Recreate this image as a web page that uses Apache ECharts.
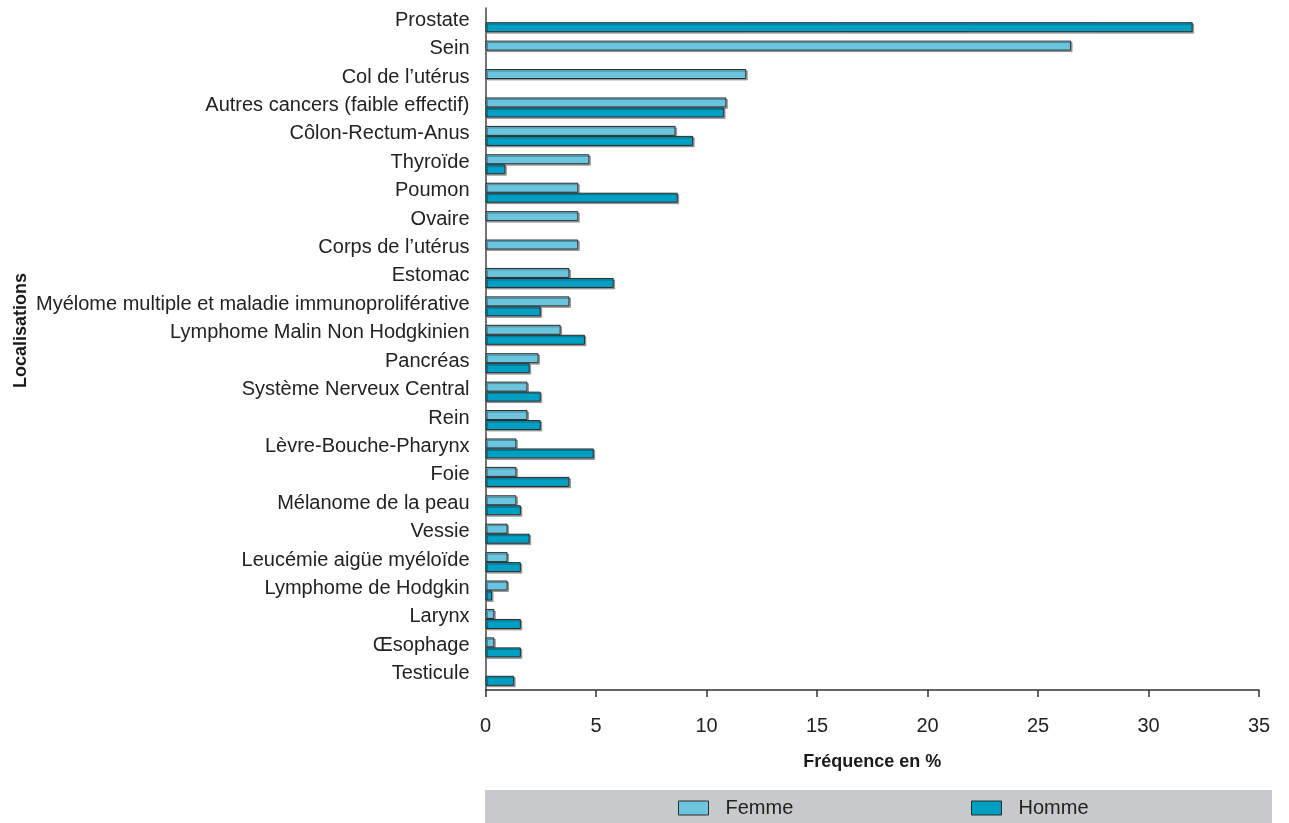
<!DOCTYPE html>
<html>
<head>
<meta charset="utf-8">
<script src="https://cdn.jsdelivr.net/npm/echarts@6/dist/echarts.min.js"></script>
<style>
html,body{margin:0;padding:0;background:#fff;}
#chart{width:1289px;height:823px;}
</style>
</head>
<body>
<div id="chart"></div>
<script>
const categories = [
  "Prostate", "Sein", "Col de l’utérus", "Autres cancers (faible effectif)",
  "Côlon-Rectum-Anus", "Thyroïde", "Poumon", "Ovaire", "Corps de l’utérus",
  "Estomac", "Myélome multiple et maladie immunoproliférative",
  "Lymphome Malin Non Hodgkinien", "Pancréas", "Système Nerveux Central",
  "Rein", "Lèvre-Bouche-Pharynx", "Foie", "Mélanome de la peau", "Vessie",
  "Leucémie aigüe myéloïde", "Lymphome de Hodgkin", "Larynx", "Œsophage",
  "Testicule"
];
const femme = [null, 26.5, 11.8, 10.9, 8.6, 4.7, 4.2, 4.2, 4.2, 3.8, 3.8, 3.4, 2.4, 1.9, 1.9, 1.4, 1.4, 1.4, 1.0, 1.0, 1.0, 0.4, 0.4, null];
const homme = [32.0, null, null, 10.8, 9.4, 0.9, 8.7, null, null, 5.8, 2.5, 4.5, 2.0, 2.5, 2.5, 4.9, 3.8, 1.6, 2.0, 1.6, 0.3, 1.6, 1.6, 1.3];
const xTicks = { min: 0, max: 35, interval: 5 };

const FONT = "'Liberation Sans Narrow', 'Liberation Sans', sans-serif";
const chart = echarts.init(document.getElementById('chart'), null, { renderer: 'canvas' });

const barStyle = (color) => ({
  color: color,
  borderColor: '#2b2b2b',
  borderWidth: 1,
  shadowColor: 'rgba(0,0,0,0.3)',
  shadowOffsetX: 1.5,
  shadowOffsetY: 1.5,
  shadowBlur: 0
});

chart.setOption({
  animation: false,
  backgroundColor: '#ffffff',
  textStyle: { fontFamily: FONT },
  grid: { left: 485.5, right: 30, top: 8, bottom: 133, containLabel: false },
  graphic: [
    { type: 'rect', left: 485, top: 790, shape: { width: 787, height: 33 }, style: { fill: '#c8c9cb' }, z: -1 },
    { type: 'text', left: 12, top: 273, rotation: Math.PI / 2,
      style: { text: 'Localisations', font: "bold 18px " + FONT, fill: '#1a1a1a' } }
  ],
  legend: [
    { data: ['Femme'], left: 678, top: 798, padding: 0, itemWidth: 30, itemHeight: 14, icon: 'rect',
      itemStyle: { borderColor: '#2b2b2b', borderWidth: 1 },
      textStyle: { fontFamily: FONT, fontSize: 20, color: '#222', padding: [0, 0, 0, 12] } },
    { data: ['Homme'], left: 971, top: 798, padding: 0, itemWidth: 30, itemHeight: 14, icon: 'rect',
      itemStyle: { borderColor: '#2b2b2b', borderWidth: 1 },
      textStyle: { fontFamily: FONT, fontSize: 20, color: '#222', padding: [0, 0, 0, 12] } }
  ],
  xAxis: {
    type: 'value',
    min: xTicks.min, max: xTicks.max, interval: xTicks.interval,
    name: 'Fréquence en %',
    nameLocation: 'middle',
    nameGap: 63,
    nameTextStyle: { fontFamily: FONT, fontSize: 18, fontWeight: 'bold', color: '#1a1a1a', verticalAlign: 'top' },
    axisLine: { show: true, lineStyle: { color: '#333', width: 1.5 } },
    axisTick: { show: true, length: 7, lineStyle: { color: '#333', width: 1.5 } },
    axisLabel: { fontFamily: FONT, fontSize: 20, color: '#222', margin: 26 },
    splitLine: { show: false }
  },
  yAxis: {
    type: 'category',
    data: categories,
    inverse: true,
    axisLine: { show: true, lineStyle: { color: '#444', width: 1.5 } },
    axisTick: { show: false },
    axisLabel: { fontFamily: FONT, fontSize: 20, color: '#222', margin: 16, verticalAlign: 'bottom', lineHeight: 20, padding: [0,0,-8,0] },
    splitLine: { show: false }
  },
  series: [
    { name: 'Femme', type: 'bar', data: femme, barWidth: 10, barGap: '0%', itemStyle: barStyle('#6cc5de') },
    { name: 'Homme', type: 'bar', data: homme, barWidth: 10, barGap: '0%', itemStyle: barStyle('#00a0c4') }
  ]
});
</script>
</body>
</html>
